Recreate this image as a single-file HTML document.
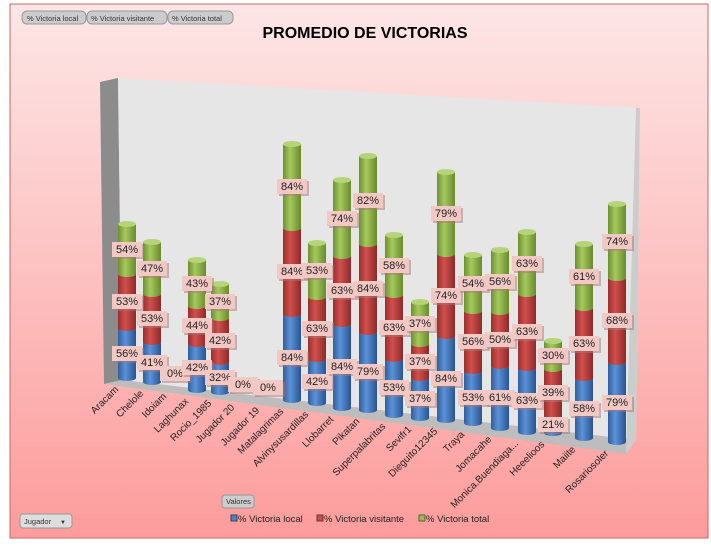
<!DOCTYPE html>
<html><head><meta charset="utf-8"><style>
body{margin:0;width:711px;height:544px;overflow:hidden;background:#fff;font-family:"Liberation Sans",sans-serif}
</style></head><body>
<svg id="s" width="711" height="544" xmlns="http://www.w3.org/2000/svg">
<defs>
<linearGradient id="bg" x1="0" y1="0" x2="0" y2="1"><stop offset="0" stop-color="#fde6e6"/><stop offset="1" stop-color="#fd9c9c"/></linearGradient>
<linearGradient id="gb" x1="0" x2="1"><stop offset="0" stop-color="#2f5f9e"/><stop offset=".4" stop-color="#5b92d8"/><stop offset="1" stop-color="#2a5490"/></linearGradient>
<linearGradient id="gr" x1="0" x2="1"><stop offset="0" stop-color="#9c2e2c"/><stop offset=".4" stop-color="#d0504d"/><stop offset="1" stop-color="#8e2a28"/></linearGradient>
<linearGradient id="gg" x1="0" x2="1"><stop offset="0" stop-color="#6f8f30"/><stop offset=".4" stop-color="#a5c95e"/><stop offset="1" stop-color="#6a8a2c"/></linearGradient>
</defs>
<rect x="10" y="4" width="698" height="534" fill="url(#bg)" stroke="#c66" stroke-width="1"/>
<polygon points="100,82 118,78 122,380 104,384" fill="#8c8c8c"/>
<polygon points="118,78 640,108 636,440 122,380" fill="#e6e6e6"/>
<polygon points="104,384 122,380 636,440 626,454" fill="#bdbdbd"/>
<polygon points="636,108 640,108 636,440 626,454" fill="#ccc"/>
<text x="365" y="38" font-size="16" font-weight="bold" text-anchor="middle" fill="#000">PROMEDIO DE VICTORIAS</text>
<g font-size="7.5" fill="#333">
<rect x="22" y="11" width="64" height="13" rx="5" fill="#ccc" stroke="#999"/><text x="27" y="21">% Victoria local</text>
<rect x="87" y="11" width="80" height="13" rx="5" fill="#ccc" stroke="#999"/><text x="91" y="21">% Victoria visitante</text>
<rect x="168" y="11" width="65" height="13" rx="5" fill="#ccc" stroke="#999"/><text x="172" y="21">% Victoria total</text>
<rect x="222" y="495" width="32" height="13" rx="3" fill="#ccc" stroke="#999"/><text x="226" y="504">Valores</text>
<rect x="20" y="514" width="52" height="14" rx="3" fill="#ddd" stroke="#999"/><text x="24" y="524">Jugador</text><text x="60" y="524" font-size="6">▼</text>
</g>
<g font-size="9.5" fill="#222">
<rect x="231" y="515" width="6" height="6" fill="#4f81bd" stroke="#345"/><text x="238" y="522">% Victoria local</text>
<rect x="317" y="515" width="6" height="6" fill="#c0504d" stroke="#733"/><text x="324" y="522">% Victoria visitante</text>
<rect x="419" y="515" width="6" height="6" fill="#9bbb59" stroke="#563"/><text x="426" y="522">% Victoria total</text>
</g>
<g id="bars"></g><g id="labs"></g><g id="ax" font-size="10" fill="#222"></g>
</svg>
<script>
var D=[["Aracam",127,378,353,301,249,"56%","53%","54%"],["Chelole",152,382,362,318,268,"41%","53%","47%"],["Idoiam",175,385],["Laghunax",197,390,367,325,283,"42%","44%","43%"],["Rocio_1985",220,392,377,340,301,"32%","42%","37%"],["Jugador 20",243,396],["Jugador 19",268,399],["Matalagrimas",292,400,357,271,186,"84%","84%","84%"],["Alvinysusardillas",317,403,381,328,270,"42%","63%","53%"],["Llobarret",342,408,366,290,218,"84%","63%","74%"],["Pikatan",368,410,371,288,200,"79%","84%","82%"],["Superpalabritas",394,415,387,327,265,"53%","63%","58%"],["Sevifr1",420,418,398,361,323,"37%","37%","37%"],["Dieguito12345",446,420,378,295,213,"84%","74%","79%"],["Traya",473,423,397,341,283,"53%","56%","54%"],["Jomacahe",500,428,397,339,281,"61%","50%","56%"],["Monica.Buendiaga...",527,432,400,331,263,"63%","63%","63%"],["Heeelioos",553,433,424,392,355,"21%","39%","30%"],["Maiite",584,438,408,343,276,"58%","63%","61%"],["Rosariosoler",617,442,402,320,241,"79%","68%","74%"]];
var ns="http://www.w3.org/2000/svg",B=document.getElementById("bars"),L=document.getElementById("labs"),A=document.getElementById("ax");
function el(p,t,a,tx){var e=document.createElementNS(ns,t);for(var k in a)e.setAttribute(k,a[k]);if(tx)e.textContent=tx;p.appendChild(e);return e;}
function lab(x,y,t){el(L,"rect",{x:x-15+2,y:y-7+2,width:30,height:15,fill:"#a77",opacity:.5});el(L,"rect",{x:x-15,y:y-7,width:30,height:15,fill:"#f2c8c4"});el(L,"text",{x:x,y:y+4,"font-size":11,"text-anchor":"middle",fill:"#222"},t);}
D.forEach(function(d){var x=d[1],b=d[2],w=9;
 if(d.length>3){var t1=2*d[3]-b,t2=2*d[4]-t1,t3=2*d[5]-t2;
  [[b,t1,"gb","#6a9ee0"],[t1,t2,"gr","#d86a67"],[t2,t3,"gg","#b5d47a"]].forEach(function(s){
   el(B,"path",{d:"M"+(x-w)+","+s[1]+"L"+(x-w)+","+s[0]+"A"+w+",3 0 0 0 "+(x+w)+","+s[0]+"L"+(x+w)+","+s[1]+"Z",fill:"url(#"+s[2]+")"});
   el(B,"ellipse",{cx:x,cy:s[1],rx:w,ry:3,fill:s[3]});});
  lab(x,d[3],d[6]);lab(x,d[4],d[7]);lab(x,d[5],d[8]);
 } else lab(x,b-12,"0%");
 el(A,"text",{x:x-8,y:b+12,"text-anchor":"end",transform:"rotate(-45 "+(x-8)+" "+(b+12)+")"},d[0]);
});
</script>
</body></html>
